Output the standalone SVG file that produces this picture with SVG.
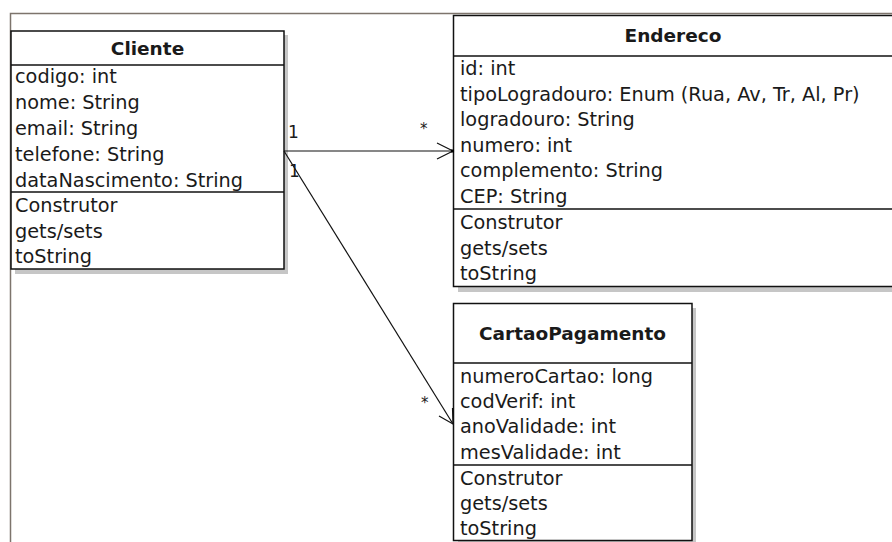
<svg xmlns="http://www.w3.org/2000/svg" width="892" height="542" viewBox="0 0 892 542">
<style>
.box{fill:#fff;stroke:#111;stroke-width:1.5}
.sh{fill:#c6c6c6}
.sep{stroke:#111;stroke-width:1.5}
.t{font-family:"DejaVu Sans","Liberation Sans",sans-serif;font-size:19.3px;fill:#1a1a1a}
.h{font-family:"DejaVu Sans","Liberation Sans",sans-serif;font-size:18.5px;font-weight:bold;fill:#1a1a1a;text-anchor:middle}
.c{stroke:#111;stroke-width:1.2;fill:none}
.m{font-family:"DejaVu Sans","Liberation Sans",sans-serif;font-size:17px;fill:#1a1a1a}
</style>
<rect width="892" height="542" fill="#fff"/>
<path d="M10.5,542 V13.5 H892" fill="none" stroke="#7d746c" stroke-width="1.5"/>
<g id="Cliente">
<rect class="sh" x="15" y="35" width="273" height="239"/>
<rect class="box" x="11" y="31" width="273" height="238"/>
<line class="sep" x1="11" y1="65" x2="284" y2="65"/>
<line class="sep" x1="11" y1="192" x2="284" y2="192"/>
<text class="h" x="147.5" y="55">Cliente</text>
<text class="t" x="15" y="83">codigo: int</text>
<text class="t" x="15" y="109">nome: String</text>
<text class="t" x="15" y="135">email: String</text>
<text class="t" x="15" y="161">telefone: String</text>
<text class="t" x="15" y="187">dataNascimento: String</text>
<text class="t" x="15" y="212">Construtor</text>
<text class="t" x="15" y="237.5">gets/sets</text>
<text class="t" x="15" y="263">toString</text>
</g>
<g id="Endereco">
<rect class="sh" x="458" y="20" width="440" height="272"/>
<rect class="box" x="453.5" y="15.5" width="440" height="271"/>
<line class="sep" x1="453.5" y1="56" x2="892" y2="56"/>
<line class="sep" x1="453.5" y1="209" x2="892" y2="209"/>
<text class="h" x="673" y="42">Endereco</text>
<text class="t" x="460" y="75">id: int</text>
<text class="t" x="460" y="100.5">tipoLogradouro: Enum (Rua, Av, Tr, Al, Pr)</text>
<text class="t" x="460" y="126">logradouro: String</text>
<text class="t" x="460" y="151.5">numero: int</text>
<text class="t" x="460" y="177">complemento: String</text>
<text class="t" x="460" y="202.5">CEP: String</text>
<text class="t" x="460" y="229">Construtor</text>
<text class="t" x="460" y="254.5">gets/sets</text>
<text class="t" x="460" y="280">toString</text>
</g>
<g id="CartaoPagamento">
<rect class="sh" x="458" y="308" width="238" height="240"/>
<rect class="box" x="453.5" y="303.5" width="238.5" height="237"/>
<line class="sep" x1="453.5" y1="363" x2="692" y2="363"/>
<line class="sep" x1="453.5" y1="465" x2="692" y2="465"/>
<text class="h" x="572.5" y="340">CartaoPagamento</text>
<text class="t" x="460" y="383">numeroCartao: long</text>
<text class="t" x="460" y="408">codVerif: int</text>
<text class="t" x="460" y="433">anoValidade: int</text>
<text class="t" x="460" y="459">mesValidade: int</text>
<text class="t" x="460" y="485">Construtor</text>
<text class="t" x="460" y="510">gets/sets</text>
<text class="t" x="460" y="535">toString</text>
</g>
<g id="connectors">
<line class="c" x1="284" y1="151" x2="453" y2="151"/>
<polyline class="c" points="437,143 453,151 437,159"/>
<rect x="451" y="149.5" width="3" height="3" fill="#000"/>
<line class="c" x1="284" y1="151" x2="453" y2="424"/>
<polyline class="c" points="439,416 453,424 452.5,408"/>
<text class="m" x="288" y="138">1</text>
<text class="m" x="420" y="134" style="font-size:15px">*</text>
<text class="m" x="289" y="177">1</text>
<text class="m" x="421" y="408" style="font-size:15px">*</text>
</g>
</svg>
